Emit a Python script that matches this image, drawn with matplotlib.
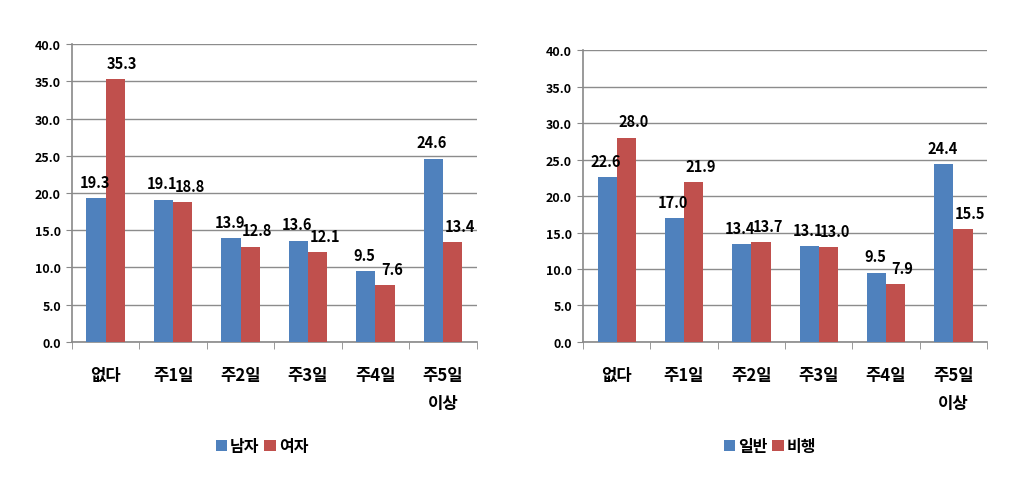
import numpy as np
import matplotlib
matplotlib.use("Agg")
import matplotlib.pyplot as plt

plt.rcParams['font.family'] = ['Noto Sans CJK KR', 'DejaVu Sans']

categories = ["없다", "주1일", "주2일", "주3일", "주4일", "주5일\n이상"]

left_names = ["남자", "여자"]
male = [19.3, 19.1, 13.9, 13.6, 9.5, 24.6]
female = [35.3, 18.8, 12.8, 12.1, 7.6, 13.4]

right_names = ["일반", "비행"]
normal = [22.6, 17.0, 13.4, 13.1, 9.5, 24.4]
delinquent = [28.0, 21.9, 13.7, 13.0, 7.9, 15.5]

blue = "#4F81BD"
red = "#C0504D"

fig = plt.figure(figsize=(10.27, 4.85), dpi=100)
ax1 = fig.add_axes([0.0701, 0.2928, 0.394, 0.6144])
ax2 = fig.add_axes([0.5677, 0.2928, 0.3934, 0.602])


def draw(ax, s1, s2, names, legend_x):
    x = np.arange(len(categories))
    w = 0.285
    b1 = ax.bar(x - w / 2, s1, w, color=blue, label=names[0], zorder=3)
    b2 = ax.bar(x + w / 2, s2, w, color=red, label=names[1], zorder=3)
    # Excel puts the labels a bit apart: blue ones left, red ones right
    for bars, dx in ((b1, -1), (b2, 5)):
        for r in bars:
            ax.annotate("%.1f" % r.get_height(),
                        (r.get_x() + r.get_width() / 2, r.get_height()),
                        xytext=(dx, 6), textcoords="offset points",
                        ha="center", va="bottom", fontsize=10.5,
                        fontweight="bold")
    ax.set_ylim(0, 40)
    ax.set_yticks(np.arange(0, 41, 5))
    ax.set_yticklabels(["%.1f" % v for v in np.arange(0, 41, 5)],
                       fontsize=9, fontweight="bold")
    ax.set_xlim(-0.5, len(categories) - 0.5)
    ax.set_xticks(x)
    ax.set_xticklabels(categories, fontsize=12, fontweight="bold",
                       linespacing=1.75, va="top")
    ax.tick_params(axis="x", length=0, pad=17)
    ax.set_xticks(np.arange(-0.5, len(categories)), minor=True)
    ax.tick_params(axis="x", which="minor", length=5, color="#898989",
                   direction="out")
    ax.tick_params(axis="y", length=4, color="#898989", pad=4)
    ax.grid(axis="y", color="#8c8c8c", linewidth=1, zorder=0)
    for s in ("top", "right"):
        ax.spines[s].set_visible(False)
    ax.spines["left"].set_color("#898989")
    ax.spines["bottom"].set_color("#898989")
    ax.spines["left"].set_linewidth(1.2)
    ax.spines["bottom"].set_linewidth(1.2)
    ax.legend(loc="center", bbox_to_anchor=(legend_x, 1 - 447 / 485),
              bbox_transform=fig.transFigure, ncol=2, frameon=False,
              handlelength=0.7, handleheight=0.7, handletextpad=0.2,
              columnspacing=0.3, prop={"size": 11.5, "weight": "bold"})


draw(ax1, male, female, left_names, 262 / 1027)
draw(ax2, normal, delinquent, right_names, 770 / 1027)

fig.savefig("out.png", dpi=100)
